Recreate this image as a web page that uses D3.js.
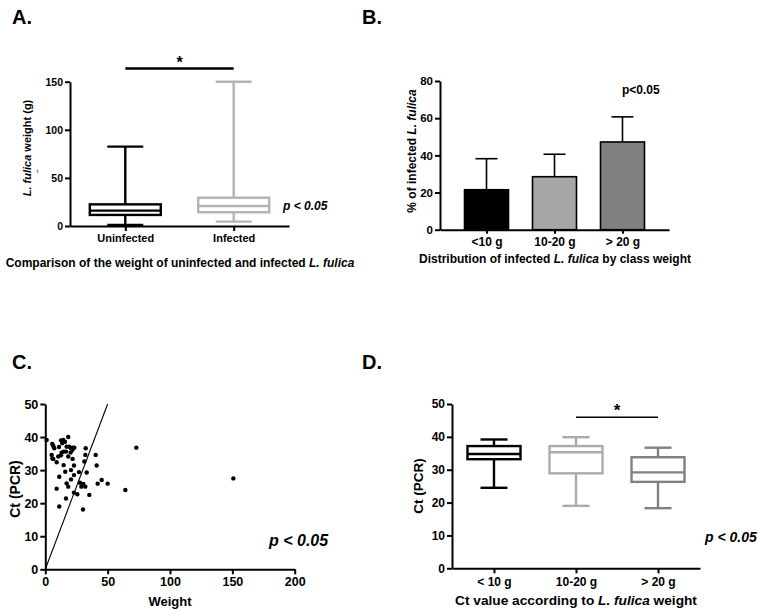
<!DOCTYPE html>
<html><head><meta charset="utf-8">
<script src="https://cdn.jsdelivr.net/npm/d3@7"></script>
<style>
body{margin:0;background:#fff;}
svg{display:block;}
text{white-space:pre;}
</style></head><body>
<svg id="c" width="758" height="610"></svg>
<script>
// ---------- Panel A data ----------
const groupsA = ["Uninfected", "Infected"];
const minA = [1, 4.5];
const q1A = [11.5, 14.3];
const medA = [16, 20.8];
const q3A = [22.5, 29.4];
const maxA = [82.5, 150];
const ticksA = [0, 50, 100, 150];
const colorsA = ["#000000", "#b4b4b4"];

// ---------- Panel B data ----------
const classesB = ["<10 g", "10-20 g", "> 20 g"];
const pctB = [21.5, 28.5, 47.2];
const errTopB = [38.2, 40.6, 60.7];
const ticksB = [0, 20, 40, 60, 80];
const colorsB = ["#000000", "#a6a6a9", "#808080"];

// ---------- Panel C data ----------
const weightC = [1.1, 5.6, 6.4, 7.2, 11.0, 12.6, 14.4, 13.6, 15.8, 18.4, 17.1, 19.2, 20.6, 21.9, 23.3,
  14.7, 16.6, 13.1, 18.4, 20.3, 21.7, 5.1, 5.6, 6.4, 10.4, 12.6,
  9.1, 14.7, 21.9, 23.0, 16.0, 20.6, 23.0, 11.2, 27.0, 31.3, 32.1, 32.4, 33.2, 40.4, 41.2,
  9.1, 17.1, 18.4, 20.6, 16.6, 11.2, 23.0, 25.7, 27.8, 28.9, 30.5, 32.1, 35.3, 30.2, 42.0, 45.2, 50.0, 64.2,
  73.0, 150.8];
const ctC = [39.1, 37.9, 37.3, 36.6, 37.0, 39.0, 39.1, 38.1, 38.6, 40.0, 37.1, 37.1, 36.6, 36.8, 36.8,
  35.6, 35.6, 35.3, 34.1, 35.3, 36.1, 34.6, 33.5, 33.4, 34.1, 34.5,
  32.4, 31.5, 33.4, 31.4, 29.5, 30.0, 28.5, 28.0, 29.4, 32.6, 34.6, 36.6, 29.3, 34.6, 31.4,
  24.4, 26.0, 25.0, 27.2, 21.4, 19.0, 23.2, 22.7, 26.2, 25.0, 25.8, 25.0, 22.5, 18.1, 25.9, 27.0, 25.9, 24.0,
  36.8, 27.5];
const fitLineC = [[0, 0], [50, 50]];
const ticksCx = [0, 50, 100, 150, 200];
const ticksCy = [0, 10, 20, 30, 40, 50];

// ---------- Panel D data ----------
const classesD = ["< 10 g", "10-20 g", "> 20 g"];
const minD = [24.5, 19.0, 18.3];
const q1D = [33.2, 28.9, 26.3];
const medD = [34.8, 35.3, 29.2];
const q3D = [37.2, 37.2, 33.8];
const maxD = [39.2, 39.9, 36.7];
const ticksD = [0, 10, 20, 30, 40, 50];
const colorsD = ["#000000", "#ababab", "#808080"];

// ---------- drawing ----------
const FONT = '"Liberation Sans", Arial, Helvetica, sans-serif';
const svg = d3.select("#c").attr("font-family", FONT);

function label(x, y, parts, size, anchor = "start", rotate = false) {
  const t = svg.append("text").attr("font-size", size).attr("font-weight", "bold")
    .attr("text-anchor", anchor).attr("fill", "#000");
  if (rotate) t.attr("transform", `translate(${x},${y}) rotate(-90)`);
  else t.attr("x", x).attr("y", y);
  parts.forEach(p => {
    const s = typeof p === "string" ? { t: p } : p;
    t.append("tspan").attr("font-style", s.i ? "italic" : "normal").text(s.t);
  });
  return t;
}
function styleAxis(g, fs) {
  g.attr("font-family", FONT).attr("font-size", fs);
  g.select(".domain").attr("stroke", "#000").attr("stroke-width", 2);
  g.selectAll(".tick line").attr("stroke", "#000").attr("stroke-width", 2);
  g.selectAll(".tick text").attr("fill", "#000").attr("font-size", fs).attr("font-weight", "bold");
}
function box(cx, w, capW, y, mn, q1, md, q3, mx, color, sw) {
  const g = svg.append("g").attr("stroke", color).attr("stroke-width", sw).attr("fill", "none");
  g.append("line").attr("x1", cx).attr("x2", cx).attr("y1", y(mx)).attr("y2", y(q3));
  g.append("line").attr("x1", cx).attr("x2", cx).attr("y1", y(q1)).attr("y2", y(mn));
  g.append("line").attr("x1", cx - capW / 2).attr("x2", cx + capW / 2).attr("y1", y(mx)).attr("y2", y(mx));
  g.append("line").attr("x1", cx - capW / 2).attr("x2", cx + capW / 2).attr("y1", y(mn)).attr("y2", y(mn));
  g.append("rect").attr("x", cx - w / 2).attr("y", y(q3)).attr("width", w).attr("height", y(q1) - y(q3)).attr("fill", "#fff");
  g.append("line").attr("x1", cx - w / 2).attr("x2", cx + w / 2).attr("y1", y(md)).attr("y2", y(md));
}

// ===== Panel A =====
label(12, 24, ["A."], 20);
const yA = d3.scaleLinear().domain([0, 150]).range([226, 81.7]);
const xA = d3.scalePoint().domain(groupsA).range([70, 289]).padding(0.51);
groupsA.forEach((g, i) => box(xA(g), 71, 36, yA, minA[i], q1A[i], medA[i], q3A[i], maxA[i], colorsA[i], 2.4));
styleAxis(svg.append("g").attr("transform", "translate(70,0)")
  .call(d3.axisLeft(yA).tickValues(ticksA).tickSize(5).tickPadding(2).tickSizeOuter(0)), 10.5);
const axA = svg.append("g").attr("transform", "translate(0,226)")
  .call(d3.axisBottom(xA).tickSize(5).tickPadding(3).tickSizeOuter(0));
styleAxis(axA, 11);
svg.append("line").attr("x1", xA(groupsA[0])).attr("x2", xA(groupsA[1])).attr("y1", 68.5).attr("y2", 68.5)
  .attr("stroke", "#000").attr("stroke-width", 2.5);
label((xA(groupsA[0]) + xA(groupsA[1])) / 2, 68, ["*"], 16, "middle");
label(283, 210, [{ t: "p < 0.05", i: true }], 12);
label(31, 148, [{ t: "L. fulica", i: true }, " weight (g)"], 11, "middle", true);
svg.append("line").attr("x1", 37.5).attr("x2", 37.5).attr("y1", 169.5).attr("y2", 173).attr("stroke", "#9a9a9a").attr("stroke-width", 1.5);
label(180, 267, ["Comparison of the weight of uninfected and infected ", { t: "L. fulica", i: true }], 12, "middle");

// ===== Panel B =====
label(362, 24, ["B."], 20);
const yB = d3.scaleLinear().domain([0, 80]).range([229.7, 81]);
const xB = d3.scalePoint().domain(classesB).range([440, 669]).padding(0.684);
const bw = 44;
classesB.forEach((c, i) => {
  const cx = xB(c);
  svg.append("line").attr("x1", cx).attr("x2", cx).attr("y1", yB(pctB[i])).attr("y2", yB(errTopB[i]))
    .attr("stroke", "#000").attr("stroke-width", 1.6);
  svg.append("line").attr("x1", cx - 11).attr("x2", cx + 11).attr("y1", yB(errTopB[i])).attr("y2", yB(errTopB[i]))
    .attr("stroke", "#000").attr("stroke-width", 1.6);
  svg.append("rect").attr("x", cx - bw / 2).attr("y", yB(pctB[i])).attr("width", bw)
    .attr("height", yB(0) - yB(pctB[i])).attr("fill", colorsB[i]).attr("stroke", "#000").attr("stroke-width", 1.6);
});
styleAxis(svg.append("g").attr("transform", "translate(440,0)")
  .call(d3.axisLeft(yB).tickValues(ticksB).tickSize(5).tickPadding(2).tickSizeOuter(0)), 11.5);
styleAxis(svg.append("g").attr("transform", "translate(0,229.7)")
  .call(d3.axisBottom(xB).tickSize(4).tickPadding(4).tickSizeOuter(0)), 12);
label(622, 94, ["p<0.05"], 12);
label(415.5, 151, ["% of infected ", { t: "L. fulica", i: true }], 12, "middle", true);
label(555, 263, ["Distribution of infected ", { t: "L. fulica", i: true }, " by class weight"], 12, "middle");

// ===== Panel C =====
label(12, 369, ["C."], 20);
const xC = d3.scaleLinear().domain([0, 200]).range([45.3, 294.7]);
const yC = d3.scaleLinear().domain([0, 50]).range([569.3, 404]);
svg.append("path").datum(fitLineC)
  .attr("d", d3.line().x(d => xC(d[0])).y(d => yC(d[1])))
  .attr("stroke", "#000").attr("stroke-width", 1.1).attr("fill", "none");
svg.append("g").selectAll("circle").data(weightC).join("circle")
  .attr("cx", (d, i) => xC(d)).attr("cy", (d, i) => yC(ctC[i])).attr("r", 2.2).attr("fill", "#000");
styleAxis(svg.append("g").attr("transform", "translate(45.3,0)")
  .call(d3.axisLeft(yC).tickValues(ticksCy).tickSize(5).tickPadding(2).tickSizeOuter(0)), 12.5);
styleAxis(svg.append("g").attr("transform", "translate(0,569.3)")
  .call(d3.axisBottom(xC).tickValues(ticksCx).tickSize(5).tickPadding(3).tickSizeOuter(0)), 12.5);
label(19.5, 489, ["Ct (PCR)"], 14, "middle", true);
label(170, 606, ["Weight"], 13, "middle");
label(269, 546, [{ t: "p < 0.05", i: true }], 16);

// ===== Panel D =====
label(362, 369, ["D."], 20);
const yD = d3.scaleLinear().domain([0, 50]).range([568.3, 404]);
const xD = d3.scalePoint().domain(classesD).range([452, 700]).padding(0.512);
classesD.forEach((c, i) => box(xD(c), 53, 27, yD, minD[i], q1D[i], medD[i], q3D[i], maxD[i], colorsD[i], 2.4));
styleAxis(svg.append("g").attr("transform", "translate(452,0)")
  .call(d3.axisLeft(yD).tickValues(ticksD).tickSize(5).tickPadding(2).tickSizeOuter(0)), 12);
styleAxis(svg.append("g").attr("transform", "translate(0,568.3)")
  .call(d3.axisBottom(xD).tickSize(5).tickPadding(4).tickSizeOuter(0)), 12);
svg.append("line").attr("x1", xD(classesD[1])).attr("x2", xD(classesD[2])).attr("y1", 417.3).attr("y2", 417.3)
  .attr("stroke", "#000").attr("stroke-width", 1.6);
label((xD(classesD[1]) + xD(classesD[2])) / 2, 416, ["*"], 17, "middle");
label(423, 486, ["Ct (PCR)"], 13.5, "middle", true);
label(576, 605, ["Ct value according to ", { t: "L. fulica", i: true }, " weight"], 13.7, "middle");
label(705, 542, [{ t: "p < 0.05", i: true }], 14);
</script>
</body></html>
